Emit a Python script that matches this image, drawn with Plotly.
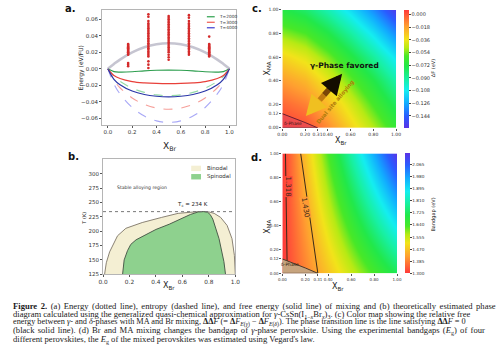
import plotly.graph_objects as go

W, H = 500, 353
def PX(x): return x / W
def PY(y): return 1 - y / H

# ---------------- data: panel a ----------------
x_mix = [0, 0.05, 0.1, 0.2, 0.3, 0.4, 0.5, 0.6, 0.7, 0.8, 0.9, 0.95, 1.0]
energy_mix = [0, 0.0059, 0.0112, 0.0199, 0.0261, 0.0298, 0.0310, 0.0298, 0.0261, 0.0199, 0.0112, 0.0059, 0]
temps = ["T=2000", "T=3000", "T=4000"]
entropy_mix = {
    "T=2000": [0, -0.0093, -0.0152, -0.0235, -0.0286, -0.0316, -0.0325, -0.0316, -0.0286, -0.0235, -0.0152, -0.0093, 0],
    "T=3000": [0, -0.0140, -0.0230, -0.0354, -0.0432, -0.0476, -0.0490, -0.0476, -0.0432, -0.0354, -0.0230, -0.0140, 0],
    "T=4000": [0, -0.0186, -0.0305, -0.0469, -0.0573, -0.0631, -0.0650, -0.0631, -0.0573, -0.0469, -0.0305, -0.0186, 0],
}
free_mix = {
    "T=2000": [0, -0.0034, -0.0040, -0.0036, -0.0025, -0.0018, -0.0015, -0.0018, -0.0025, -0.0036, -0.0040, -0.0034, 0],
    "T=3000": [0, -0.0081, -0.0118, -0.0155, -0.0171, -0.0178, -0.0180, -0.0178, -0.0171, -0.0155, -0.0118, -0.0081, 0],
    "T=4000": [0, -0.0127, -0.0193, -0.0270, -0.0312, -0.0333, -0.0340, -0.0333, -0.0312, -0.0270, -0.0193, -0.0127, 0],
}
solid_col = {"T=2000": "#2e9e4f", "T=3000": "#e8403a", "T=4000": "#2a36a8"}
dash_col = {"T=2000": "rgba(60,185,95,0.55)", "T=3000": "rgba(240,95,85,0.6)", "T=4000": "rgba(110,110,240,0.6)"}
legend_col = {"T=2000": "#2ca04c", "T=3000": "#ee5a50", "T=4000": "#3c3cd0"}

dft_compositions = [1/6, 1/3, 1/2, 2/3, 5/6]
dft_energies = [
    [0.030, 0.029, 0.028, 0.027, 0.026, 0.025, 0.024, 0.023, 0.022, 0.021, 0.020, 0.019, 0.018, 0.017, 0.007, 0.005, 0.003],
    [0.066, 0.063, 0.058, 0.055, 0.053, 0.051, 0.049, 0.047, 0.045, 0.043, 0.041, 0.039, 0.037, 0.035, 0.033, 0.031,
     0.029, 0.027, 0.025, 0.023, 0.021, 0.019, 0.017, 0.015, 0.009, 0.005, 0.001],
    [0.064, 0.062, 0.060, 0.058, 0.056, 0.054, 0.052, 0.050, 0.048, 0.046, 0.044, 0.042, 0.040, 0.038, 0.036, 0.034,
     0.032, 0.030, 0.028, 0.026, 0.024, 0.022, 0.020, 0.017, 0.014, 0.011],
    [0.065, 0.062, 0.058, 0.055, 0.053, 0.051, 0.049, 0.047, 0.045, 0.043, 0.041, 0.039, 0.037, 0.035, 0.033, 0.031,
     0.029, 0.027, 0.025, 0.023, 0.021, 0.019, 0.017],
    [0.039, 0.030, 0.029, 0.028, 0.027, 0.026, 0.025, 0.024, 0.023, 0.022, 0.021, 0.020, 0.019, 0.018, 0.017, 0.016, 0.015],
]

# ---------------- data: panel b ----------------
binodal_x = [0.012, 0.025, 0.05, 0.11, 0.173, 0.296, 0.444, 0.568, 0.716, 0.76, 0.80, 0.84, 0.889, 0.938, 0.975, 0.993, 1.0]
binodal_T = [125, 145, 164, 192, 205, 215, 224, 231, 234, 234, 233.5, 231, 224, 210, 187, 158, 125]
spinodal_x = [0.148, 0.16, 0.185, 0.21, 0.25, 0.32, 0.40, 0.50, 0.60, 0.66, 0.72, 0.76, 0.79, 0.81, 0.83, 0.85, 0.877, 0.90, 0.914, 0.926]
spinodal_T = [125, 150, 166, 177, 185, 194, 203, 212, 222, 229, 233.5, 234, 233, 229, 221, 208, 187, 162, 147, 125]
Tc = 234

# ---------------- data: panel c ----------------
grid = [0, 0.2, 0.4, 0.6, 0.8, 1.0]
ddF = [
    [0.006, 0.002, -0.012, -0.030, -0.047, -0.066],
    [-0.004, -0.010, -0.024, -0.041, -0.060, -0.079],
    [-0.016, -0.023, -0.037, -0.055, -0.073, -0.093],
    [-0.031, -0.039, -0.053, -0.071, -0.090, -0.111],
    [-0.051, -0.058, -0.072, -0.090, -0.110, -0.133],
    [-0.072, -0.080, -0.094, -0.112, -0.133, -0.157],
]
ddF_ticks = [0.000, -0.018, -0.036, -0.054, -0.072, -0.090, -0.108, -0.126, -0.144]
delta_x = [0, 0.31, 0.2, 0.1, 0]
delta_y = [0, 0, 0.045, 0.085, 0.12]
xbr_ticks = [0.00, 0.20, 0.31, 0.40, 0.60, 0.80, 1.00]
xma_ticks = [0.00, 0.12, 0.20, 0.40, 0.60, 0.80, 1.00]

# ---------------- data: panel d (Vegard corners) ----------------
corner = [0, 1]
Eg = [[1.300, 1.720],   # X_MA = 0 : CsSnI3, CsSnBr3
      [1.295, 2.140]]   # X_MA = 1 : MASnI3, MASnBr3
Eg_ticks = [1.300, 1.385, 1.470, 1.555, 1.640, 1.725, 1.810, 1.895, 1.980, 2.065]
Eg_levels = [1.318, 1.430]

rain = [[0.0, '#5a32e6'], [0.1, '#2a5cff'], [0.21, '#12acff'], [0.32, '#14eef0'], [0.42, '#18f0a0'],
        [0.52, '#22e84a'], [0.61, '#48e828'], [0.68, '#b8ea14'], [0.75, '#f2e41a'], [0.86, '#ffa030'], [1.0, '#ff3a3a']]
rain_r = [[round(1 - p, 4), c] for p, c in reversed(rain)]

FONT = "DejaVu Sans"
fig = go.Figure()

# panel a
for t in temps:
    fig.add_trace(go.Scatter(x=x_mix, y=entropy_mix[t], mode='lines', line=dict(color=dash_col[t], width=1.1, dash='dash', shape='spline'),
                             xaxis='x', yaxis='y', showlegend=False))
for t in temps:
    fig.add_trace(go.Scatter(x=x_mix, y=free_mix[t], mode='lines', line=dict(color=solid_col[t], width=1.2, shape='spline'),
                             xaxis='x', yaxis='y', showlegend=False))
fig.add_trace(go.Scatter(x=x_mix, y=energy_mix, mode='lines', line=dict(color='rgba(160,158,178,0.6)', width=2.6, shape='spline'),
                         xaxis='x', yaxis='y', showlegend=False))
for xc, ys in zip(dft_compositions, dft_energies):
    fig.add_trace(go.Scatter(x=[xc] * len(ys), y=ys, mode='markers', marker=dict(color='#d42a2a', size=2.6, line=dict(width=0)),
                             xaxis='x', yaxis='y', showlegend=False))

# panel b
fig.add_trace(go.Scatter(x=binodal_x, y=binodal_T, mode='lines', fill='tozeroy', fillcolor='#f4efd3',
                         line=dict(color='#8a8274', width=1), xaxis='x2', yaxis='y2', showlegend=False))
fig.add_trace(go.Scatter(x=spinodal_x, y=spinodal_T, mode='lines', fill='tozeroy', fillcolor='#8ed18e',
                         line=dict(color='#4d5e4d', width=1), xaxis='x2', yaxis='y2', showlegend=False))
fig.add_trace(go.Scatter(x=[0, 1], y=[Tc, Tc], mode='lines', line=dict(color='#777', width=1, dash='dot'),
                         xaxis='x2', yaxis='y2', showlegend=False))

# panel c
fig.add_trace(go.Heatmap(x=grid, y=grid, z=ddF, zsmooth='best', colorscale=rain, zmin=-0.161, zmax=0.0064,
                         xaxis='x3', yaxis='y3',
                         colorbar=dict(x=PX(407), xanchor='left', y=PY(67), yanchor='middle', len=120 / H, lenmode='fraction',
                                       thickness=5, outlinewidth=0, xpad=0, ypad=0, tickvals=ddF_ticks, tickformat='.3f',
                                       ticks='outside', ticklen=2, tickcolor='#444', tickfont=dict(size=5, family=FONT, color='#333'))))
fig.add_trace(go.Scatter(x=delta_x, y=delta_y, mode='lines', fill='toself', fillcolor='rgba(215,70,105,0.45)',
                         line=dict(color='#6a2030', width=1), xaxis='x3', yaxis='y3', showlegend=False))

# panel d
fig.add_trace(go.Heatmap(x=corner, y=corner, z=Eg, zsmooth='best', colorscale=rain_r, zmin=1.30, zmax=2.143,
                         xaxis='x4', yaxis='y4',
                         colorbar=dict(x=PX(408), xanchor='left', y=PY(214), yanchor='middle', len=122 / H, lenmode='fraction',
                                       thickness=5, outlinewidth=0, xpad=0, ypad=0, tickvals=Eg_ticks, tickformat='.3f',
                                       ticks='outside', ticklen=2, tickcolor='#444', tickfont=dict(size=4.2, family=FONT, color='#333'))))
fig.add_trace(go.Contour(x=corner, y=corner, z=Eg, showscale=False, xaxis='x4', yaxis='y4',
                         contours=dict(start=Eg_levels[0], end=Eg_levels[1] + 0.001, size=Eg_levels[1] - Eg_levels[0],
                                       coloring='none', showlabels=False),
                         line=dict(color='#3a2a1a', width=1)))
fig.add_trace(go.Scatter(x=delta_x, y=delta_y, mode='lines', fill='toself', fillcolor='#c7a47e',
                         line=dict(color='#4a3a2a', width=1), xaxis='x4', yaxis='y4', showlegend=False))

tick_a = dict(size=5.5, family=FONT, color='#333')
tick_c = dict(size=4.5, family=FONT, color='#333')
box = dict(showline=True, mirror=True, linecolor='#b5b5b5', linewidth=1, showgrid=False, zeroline=False,
           ticks='outside', ticklen=2, tickcolor='#555')
hm = dict(showline=False, showgrid=False, zeroline=False, ticks='outside', ticklen=2, tickcolor='#555', tickangle=0)

fig.update_layout(
    width=W, height=H, margin=dict(l=0, r=0, t=0, b=0), paper_bgcolor='white', plot_bgcolor='white',
    showlegend=False, font=dict(family=FONT),
    xaxis=dict(domain=[PX(99), PX(236)], range=[-0.048, 1.056], anchor='y', tickvals=[0, 0.2, 0.4, 0.6, 0.8, 1.0],
               tickformat='.1f', tickfont=tick_a, **box),
    yaxis=dict(domain=[PY(124), PY(7)], range=[-0.068, 0.0714], anchor='x', tickvals=[-0.06, -0.04, -0.02, 0, 0.02, 0.04, 0.06],
               tickformat='.2f', tickfont=tick_a, **box),
    xaxis2=dict(domain=[PX(100), PX(235)], range=[0, 1], anchor='y2', tickvals=[0, 0.2, 0.4, 0.6, 0.8, 1.0],
                tickformat='.1f', tickfont=dict(size=5.8, family=FONT, color='#333'), **box),
    yaxis2=dict(domain=[PY(276), PY(159)], range=[125, 325], anchor='x2', tickvals=[125, 150, 175, 200, 225, 250, 275, 300],
                tickfont=dict(size=5.5, family=FONT, color='#333'), **box),
    xaxis3=dict(domain=[PX(283), PX(399)], range=[0, 1], anchor='y3', tickvals=xbr_ticks, tickformat='.2f', tickfont=tick_c, **hm),
    yaxis3=dict(domain=[PY(127), PY(7)], range=[0, 1], anchor='x3', tickvals=xma_ticks, tickformat='.2f', tickfont=tick_c, **hm),
    xaxis4=dict(domain=[PX(283), PX(400)], range=[0, 1], anchor='y4', tickvals=xbr_ticks, tickformat='.2f',
                tickfont=dict(size=4, family=FONT, color='#333'), **hm),
    yaxis4=dict(domain=[PY(275), PY(153)], range=[0, 1], anchor='x4', tickvals=xma_ticks, tickformat='.2f',
                tickfont=dict(size=4, family=FONT, color='#333'), **hm),
)

ann = []
def A(text, x, y, size, angle=0, color='#222', xanchor='center', family=FONT, **kw):
    ann.append(dict(text=text, x=PX(x), y=PY(y), xref='paper', yref='paper', showarrow=False, textangle=angle,
                    xanchor=xanchor, yanchor='middle', font=dict(size=size, color=color, family=family), **kw))

# panel letters
A("<b>a.</b>", 67, 6, 10, color='#111')
A("<b>b.</b>", 70, 156, 10, color='#111')
A("<b>c.</b>", 257, 6, 10, color='#111')
A("<b>d.</b>", 257, 157, 10, color='#111')
# axis titles
A("Energy (eV/FU)", 77, 66, 6, angle=-90)
A("X<sub>Br</sub>", 168, 146, 9)
A("T (K)", 81, 219, 5, angle=-90)
A("X<sub>Br</sub>", 167, 288, 8)
A("X<sub>MA</sub>", 268, 67, 8, angle=-90)
A("X<sub>Br</sub>", 343, 140, 8)
A("X<sub>MA</sub>", 268, 228, 8, angle=-90)
A("X<sub>Br</sub>", 340, 289, 8)
A("ΔF (eV)", 437, 66, 5, angle=-90)
A("Bandgap (eV)", 437, 215, 5, angle=-90)
# panel a legend
for i, t in enumerate(temps):
    yy = 14 + i * 5.6
    fig.add_shape(type='line', xref='paper', yref='paper', x0=PX(206), x1=PX(214), y0=PY(yy), y1=PY(yy),
                  line=dict(color=legend_col[t], width=1.2))
    A(t, 216, yy, 4.3, xanchor='left', color='#333')
# panel b legend and texts
fig.add_shape(type='rect', xref='paper', yref='paper', x0=PX(190), x1=PX(200), y0=PY(171), y1=PY(165.5),
              fillcolor='#f4efd3', line=dict(width=0))
fig.add_shape(type='rect', xref='paper', yref='paper', x0=PX(190), x1=PX(200), y0=PY(179.5), y1=PY(174),
              fillcolor='#8ed18e', line=dict(width=0))
A("Binodal", 204, 168, 5.5, xanchor='left', color='#333')
A("Spinodal", 204, 177, 5.5, xanchor='left', color='#333')
A("Stable alloying region", 140, 188, 4.6, color='#333')
A("T<sub>c</sub> = 234 K", 191, 205, 5.5, color='#222')
# panel c texts
A("<b>γ-Phase favored</b>", 346, 64, 7.5, color='#111')
A("<b>Dual site alloying</b>", 337, 101, 5.6, angle=-50, color='#b07c0c')
A("δ-Phase", 294, 123, 4.5, color='#3a1a1a')
A("δ-Phase", 291, 266, 4.5, color='#2a1a0a')
# panel d contour labels (inline)
A("1.318", 289, 187, 7, angle=90, color='#3a2a1a', bgcolor='#ff4a3a', borderpad=0)
A("1.430", 306, 208, 7, angle=81, color='#3a2a1a', bgcolor='#ff9a34', borderpad=0)

# gradient double arrow in panel c
ann.append(dict(x=0.526, y=0.458, ax=0.445, ay=0.365, xref='x3', yref='y3', axref='x3', ayref='y3', text='',
                showarrow=True, arrowhead=2, arrowsize=0.75, arrowwidth=5.5, arrowcolor='#140c00'))
ann.append(dict(x=0.207, y=0.100, ax=0.29, ay=0.193, xref='x3', yref='y3', axref='x3', ayref='y3', text='',
                showarrow=True, arrowhead=2, arrowsize=0.75, arrowwidth=5.5, arrowcolor='#f0c020'))
seg_cols = ['#e8b018', '#c07a10', '#7a4608', '#3a2004']
sx = [0.29, 0.329, 0.368, 0.407, 0.446]
sy = [0.193, 0.236, 0.279, 0.322, 0.366]
for i, c in enumerate(seg_cols):
    fig.add_shape(type='line', xref='x3', yref='y3', x0=sx[i], y0=sy[i], x1=sx[i + 1], y1=sy[i + 1],
                  line=dict(color=c, width=5.5))

# caption
cap = [
    "<b>Figure 2.</b> (a) Energy (dotted line), entropy (dashed line), and free energy (solid line) of mixing and (b) theoretically estimated phase",
    "diagram calculated using the generalized quasi-chemical approximation for <i>γ</i>-CsSn(I<sub>1−<i>x</i></sub>Br<sub><i>x</i></sub>)<sub>3</sub>. (c) Color map showing the relative free",
    "energy between <i>γ</i>- and <i>δ</i>-phases with MA and Br mixing, <b>ΔΔ</b><i>F</i> (= <b>Δ</b><i>F</i><sub><i>E</i>(<i>γ</i>)</sub> − <b>Δ</b><i>F</i><sub><i>E</i>(<i>δ</i>)</sub>). The phase transition line is the line satisfying <b>ΔΔ</b><i>F</i> = 0",
    "(black solid line). (d) Br and MA mixing changes the bandgap of <i>γ</i>-phase perovskite. Using the experimental bandgaps (<i>E</i><sub>g</sub>) of four",
    "different perovskites, the <i>E</i><sub>g</sub> of the mixed perovskites was estimated using Vegard's law.",
]
cap_size = [8.6, 8.6, 8.25, 8.6, 8.6]
cap_wordspace = [1.4, 0, 0, 1.1, 0]
for i, line in enumerate(cap):
    txt = line if cap_wordspace[i] == 0 else '<span style="word-spacing:%.1fpx">%s</span>' % (cap_wordspace[i], line)
    A(txt, 6, 308 + i * 8.5, cap_size[i], xanchor='left', family='Liberation Serif', color='#1a1a1a')

fig.update_layout(annotations=ann)
fig.write_html("out.html")
